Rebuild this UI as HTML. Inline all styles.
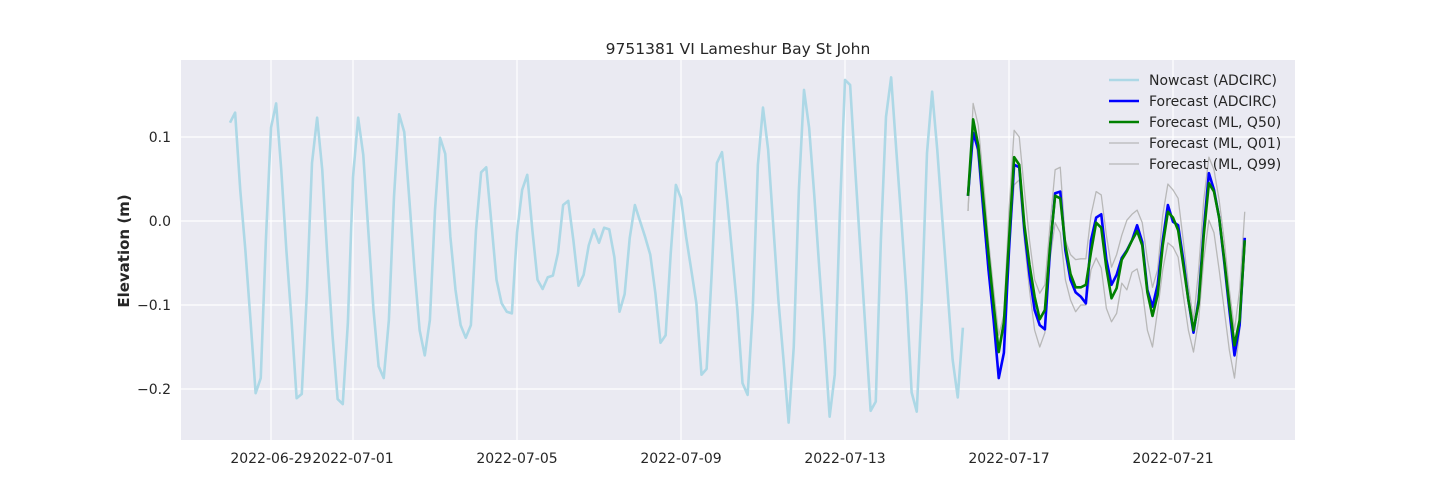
<!DOCTYPE html>
<html><head><meta charset="utf-8"><style>
html,body{margin:0;padding:0;background:#fff;}
svg{display:block;font-family:"DejaVu Sans","Liberation Sans",sans-serif;}
</style></head><body>
<svg id="chart" width="1440" height="504" viewBox="0 0 1440 504" xmlns="http://www.w3.org/2000/svg">
<rect x="181" y="60" width="1114" height="380" fill="#eaeaf2"/>
<g id="grid"></g>
<g id="series"></g>
<g id="ticks"></g>
<text x="738" y="54" text-anchor="middle" font-size="15.5" fill="#262626">9751381 VI Lameshur Bay St John</text>
<text x="0" y="0" transform="translate(129,251) rotate(-90)" text-anchor="middle" font-size="15" font-weight="bold" fill="#262626">Elevation (m)</text>
<g id="legend"></g>
</svg>
<script>
const yTicks=[0.1,0.0,-0.1,-0.2];
const yTickLabels=["0.1","0.0","\u22120.1","\u22120.2"];
const xTickDays=[0,2,6,10,14,18,22];
const xTickLabels=["2022-06-29","2022-07-01","2022-07-05","2022-07-09","2022-07-13","2022-07-17","2022-07-21"];
const nowcastStartDay=-1;
const forecastStartDay=17;
const stepDays=0.125;
const nowcast=[0.117,0.129,0.037,-0.035,-0.118,-0.205,-0.187,-0.023,0.111,0.140,0.061,-0.035,-0.118,-0.211,-0.206,-0.085,0.069,0.123,0.061,-0.043,-0.136,-0.212,-0.218,-0.121,0.052,0.123,0.079,-0.013,-0.106,-0.173,-0.187,-0.118,0.029,0.127,0.106,0.025,-0.058,-0.130,-0.160,-0.118,0.013,0.099,0.080,-0.019,-0.082,-0.124,-0.139,-0.124,-0.011,0.058,0.064,-0.002,-0.070,-0.098,-0.108,-0.110,-0.014,0.037,0.055,-0.011,-0.070,-0.081,-0.067,-0.065,-0.038,0.019,0.024,-0.023,-0.077,-0.064,-0.029,-0.010,-0.026,-0.008,-0.010,-0.043,-0.108,-0.087,-0.020,0.019,0.000,-0.019,-0.040,-0.086,-0.145,-0.136,-0.038,0.043,0.027,-0.019,-0.058,-0.098,-0.183,-0.176,-0.061,0.069,0.082,0.025,-0.040,-0.106,-0.193,-0.207,-0.106,0.067,0.135,0.085,-0.005,-0.094,-0.165,-0.240,-0.150,0.037,0.156,0.111,0.031,-0.058,-0.142,-0.233,-0.183,0.010,0.168,0.162,0.061,-0.035,-0.130,-0.226,-0.215,-0.023,0.124,0.171,0.085,0.001,-0.088,-0.204,-0.227,-0.094,0.081,0.154,0.085,0.001,-0.082,-0.165,-0.210,-0.127];
const fcAdcirc=[0.030,0.105,0.085,0.013,-0.058,-0.118,-0.187,-0.157,-0.035,0.067,0.064,-0.011,-0.064,-0.106,-0.124,-0.129,-0.035,0.033,0.035,-0.035,-0.070,-0.085,-0.090,-0.098,-0.023,0.004,0.008,-0.046,-0.076,-0.064,-0.044,-0.035,-0.023,-0.005,-0.025,-0.082,-0.102,-0.076,-0.023,0.019,-0.001,-0.005,-0.046,-0.094,-0.133,-0.094,-0.011,0.057,0.037,0.004,-0.049,-0.106,-0.160,-0.124,-0.020];
const fcQ50=[0.030,0.121,0.090,0.025,-0.040,-0.100,-0.156,-0.121,-0.023,0.076,0.067,-0.005,-0.052,-0.090,-0.117,-0.106,-0.031,0.030,0.027,-0.029,-0.063,-0.079,-0.079,-0.076,-0.037,-0.002,-0.008,-0.056,-0.092,-0.080,-0.046,-0.036,-0.023,-0.012,-0.029,-0.085,-0.113,-0.088,-0.029,0.011,0.004,-0.011,-0.052,-0.094,-0.130,-0.098,-0.017,0.045,0.035,0.004,-0.046,-0.100,-0.148,-0.118,-0.023];
const fcQ01=[0.012,0.117,0.073,0.001,-0.064,-0.118,-0.148,-0.118,-0.035,0.043,0.049,-0.023,-0.082,-0.130,-0.150,-0.133,-0.046,-0.002,-0.014,-0.070,-0.094,-0.108,-0.100,-0.100,-0.058,-0.044,-0.056,-0.104,-0.120,-0.110,-0.074,-0.082,-0.061,-0.057,-0.082,-0.130,-0.150,-0.106,-0.058,-0.026,-0.031,-0.043,-0.088,-0.130,-0.156,-0.118,-0.046,0.001,-0.014,-0.058,-0.106,-0.154,-0.187,-0.130,-0.023];
const fcQ99=[0.012,0.140,0.114,0.049,-0.023,-0.082,-0.136,-0.112,0.013,0.108,0.100,0.037,-0.023,-0.070,-0.086,-0.076,-0.005,0.061,0.064,-0.023,-0.040,-0.046,-0.045,-0.045,0.007,0.035,0.031,-0.017,-0.055,-0.040,-0.017,0.001,0.008,0.013,-0.002,-0.046,-0.079,-0.058,0.007,0.044,0.037,0.027,-0.023,-0.076,-0.118,-0.058,0.025,0.076,0.061,0.025,-0.023,-0.082,-0.130,-0.082,0.011];
const legendLabels=["Nowcast (ADCIRC)","Forecast (ADCIRC)","Forecast (ML, Q50)","Forecast (ML, Q01)","Forecast (ML, Q99)"];

const NS="http://www.w3.org/2000/svg";
const X0=271, PXDAY=41, Y0=221, PXUNIT=840;
function xs(d){return X0+d*PXDAY;}
function ys(v){return Y0-v*PXUNIT;}
function mk(tag,parent){const e=document.createElementNS(NS,tag);parent.appendChild(e);return e;}
const grid=document.getElementById('grid'),ticks=document.getElementById('ticks'),series=document.getElementById('series'),legend=document.getElementById('legend');
yTicks.forEach((v,i)=>{
  const l=mk('line',grid);
  
  
  l.setAttribute('x1',181);l.setAttribute('x2',1295);l.setAttribute('y1',ys(v));l.setAttribute('y2',ys(v));
  l.setAttribute('stroke','#fff');l.setAttribute('stroke-width',1.2);
  const t=mk('text',ticks);
  
  
  t.setAttribute('x',171);t.setAttribute('y',ys(v)+5);t.setAttribute('text-anchor','end');t.setAttribute('font-size',14);t.setAttribute('fill','#262626');
  t.textContent=yTickLabels[i];
});
xTickDays.forEach((d,i)=>{
  const l=mk('line',grid);
  
  
  l.setAttribute('x1',xs(d));l.setAttribute('x2',xs(d));l.setAttribute('y1',60);l.setAttribute('y2',440);
  l.setAttribute('stroke','#fff');l.setAttribute('stroke-width',1.2);
  const t=mk('text',ticks);
  
  
  t.setAttribute('x',xs(d));t.setAttribute('y',463);t.setAttribute('text-anchor','middle');t.setAttribute('font-size',14);t.setAttribute('fill','#262626');
  t.textContent=xTickLabels[i];
});
function line(vals,start,color,w,name){
  const p=mk('polyline',series);
  
  
  p.setAttribute('points',vals.map((v,i)=>xs(start+i*stepDays).toFixed(2)+','+ys(v).toFixed(2)).join(' '));
  p.setAttribute('fill','none');p.setAttribute('stroke',color);p.setAttribute('stroke-width',w);p.setAttribute('stroke-linejoin','round');
}
line(nowcast,nowcastStartDay,'#add8e6',2.6,'nowcast-adcirc-line');
line(fcQ01,forecastStartDay,'#b8b8b8',1.3,'forecast-q01-line');
line(fcQ99,forecastStartDay,'#b8b8b8',1.3,'forecast-q99-line');
line(fcAdcirc,forecastStartDay,'#0000ff',2.6,'forecast-adcirc-line');
line(fcQ50,forecastStartDay,'#008000',2.6,'forecast-q50-line');
const legColors=['#add8e6','#0000ff','#008000','#b8b8b8','#b8b8b8'];
const legWidths=[2.6,2.6,2.6,1.3,1.3];
legendLabels.forEach((lab,i)=>{
  const y=80+i*21;
  const l=mk('line',legend);
  
  
  l.setAttribute('x1',1109);l.setAttribute('x2',1139);l.setAttribute('y1',y);l.setAttribute('y2',y);
  l.setAttribute('stroke',legColors[i]);l.setAttribute('stroke-width',legWidths[i]);
  const t=mk('text',legend);
  
  
  t.setAttribute('x',1149);t.setAttribute('y',y+5);t.setAttribute('font-size',14);t.setAttribute('fill','#262626');
  t.textContent=lab;
});
</script>
</body></html>
